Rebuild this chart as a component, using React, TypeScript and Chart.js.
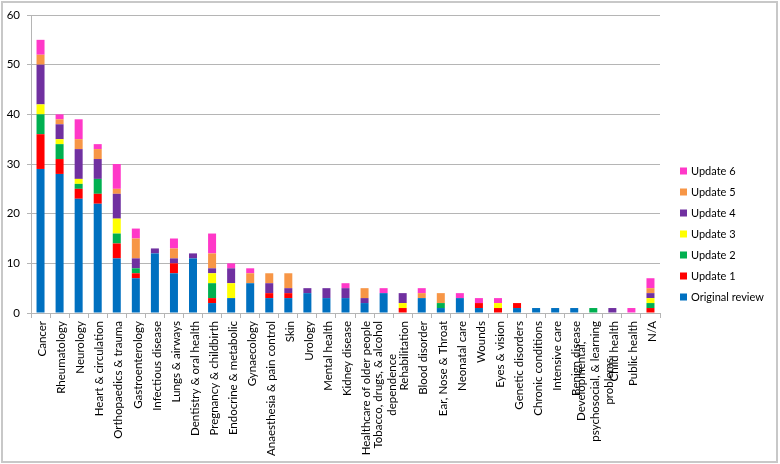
import React, { useEffect, useRef } from 'react';
import { Chart, registerables } from 'chart.js';

Chart.register(...registerables);

const categories: string[][] = [
  ['Cancer'],
  ['Rheumatology'],
  ['Neurology'],
  ['Heart & circulation'],
  ['Orthopaedics & trauma'],
  ['Gastroenterology'],
  ['Infectious disease'],
  ['Lungs & airways'],
  ['Dentistry & oral health'],
  ['Pregnancy & childbirth'],
  ['Endocrine & metabolic'],
  ['Gynaecology'],
  ['Anaesthesia & pain control'],
  ['Skin'],
  ['Urology'],
  ['Mental health'],
  ['Kidney disease'],
  ['Healthcare of older people'],
  ['Tobacco, drugs, & alcohol', 'dependence'],
  ['Rehabilitation'],
  ['Blood disorder'],
  ['Ear, Nose & Throat'],
  ['Neonatal care'],
  ['Wounds'],
  ['Eyes & vision'],
  ['Genetic disorders'],
  ['Chronic conditions'],
  ['Intensive care'],
  ['Benign disease'],
  ['Developmental,', 'psychosocial, & learning', 'problems'],
  ['Child health'],
  ['Public health'],
  ['N/A'],
];

const originalReview = [29, 28, 23, 22, 11, 7, 12, 8, 11, 2, 3, 6, 3, 3, 4, 3, 3, 2, 4, 0, 3, 1, 3, 1, 0, 1, 1, 1, 1, 0, 0, 0, 0];
const update1 = [7, 3, 2, 2, 3, 1, 0, 2, 0, 1, 0, 0, 1, 1, 0, 0, 0, 0, 0, 1, 0, 0, 0, 1, 1, 1, 0, 0, 0, 0, 0, 0, 1];
const update2 = [4, 3, 1, 3, 2, 1, 0, 0, 0, 3, 0, 0, 0, 0, 0, 0, 0, 0, 0, 0, 0, 1, 0, 0, 0, 0, 0, 0, 0, 1, 0, 0, 1];
const update3 = [2, 1, 1, 0, 3, 0, 0, 0, 0, 2, 3, 0, 0, 0, 0, 0, 0, 0, 0, 1, 0, 0, 0, 0, 1, 0, 0, 0, 0, 0, 0, 0, 1];
const update4 = [8, 3, 6, 4, 5, 2, 1, 1, 1, 1, 3, 0, 2, 1, 1, 2, 2, 1, 0, 2, 0, 0, 0, 0, 0, 0, 0, 0, 0, 0, 1, 0, 1];
const update5 = [2, 1, 2, 2, 1, 4, 0, 2, 0, 3, 0, 2, 2, 3, 0, 0, 0, 2, 0, 0, 1, 2, 0, 0, 0, 0, 0, 0, 0, 0, 0, 0, 1];
const update6 = [3, 1, 4, 1, 5, 2, 0, 2, 0, 4, 1, 1, 0, 0, 0, 0, 1, 0, 1, 0, 1, 0, 1, 1, 1, 0, 0, 0, 0, 0, 0, 1, 2];

const seriesNames = ['Original review', 'Update 1', 'Update 2', 'Update 3', 'Update 4', 'Update 5', 'Update 6'];
const seriesValues = [originalReview, update1, update2, update3, update4, update5, update6];
const seriesColors = ['#0070C0', '#FF0000', '#00B050', '#FFFF00', '#7030A0', '#F79646', '#FF38C8'];

const yMin = 0;
const yMax = 60;
const yStep = 10;

const FONT = 'Lato, "Open Sans", sans-serif';
const FONT_SIZE = 11.5;
const LEGEND_FONT_SIZE = 11;
const GRID = '#b5b5b5';

const framePlugin = {
  id: 'frame',
  beforeDraw(chart: any) {
    const ctx = chart.ctx;
    ctx.save();
    ctx.fillStyle = '#ffffff';
    ctx.fillRect(0, 0, chart.width, chart.height);
    ctx.restore();
  },
  afterDraw(chart: any) {
    const ctx = chart.ctx;
    ctx.save();
    ctx.strokeStyle = '#c8c8c8';
    ctx.lineWidth = 2;
    ctx.strokeRect(2, 2, chart.width - 5, chart.height - 4);
    ctx.restore();
  },
};

const xLabelPlugin = {
  id: 'xLabels',
  afterDraw(chart: any) {
    const ctx = chart.ctx;
    const xScale = chart.scales.x;
    const top = chart.chartArea.bottom + 8;
    const lineH = 14;
    ctx.save();
    ctx.font = `${FONT_SIZE}px ${FONT}`;
    ctx.fillStyle = '#000000';
    ctx.textAlign = 'center';
    ctx.textBaseline = 'middle';
    categories.forEach((lines, i) => {
      const x = xScale.getPixelForValue(i) + 2;
      let w = 0;
      lines.forEach((l) => { w = Math.max(w, ctx.measureText(l).width); });
      lines.forEach((l, j) => {
        const cx = x + (j - (lines.length - 1) / 2) * lineH;
        ctx.save();
        ctx.translate(cx, top + w / 2);
        ctx.rotate(-Math.PI / 2);
        ctx.fillText(l, 0, 0);
        ctx.restore();
      });
    });
    ctx.restore();
  },
};

const legendPlugin = {
  id: 'customLegend',
  afterDraw(chart: any) {
    const ctx = chart.ctx;
    ctx.save();
    ctx.font = `${LEGEND_FONT_SIZE}px ${FONT}`;
    ctx.textAlign = 'left';
    ctx.textBaseline = 'middle';
    const n = chart.data.datasets.length;
    for (let k = 0; k < n; k++) {
      const ds = chart.data.datasets[n - 1 - k];
      const cy = 171 + k * 21;
      ctx.fillStyle = ds.backgroundColor;
      ctx.fillRect(680, cy - 3.5, 7, 7);
      ctx.fillStyle = '#000000';
      ctx.fillText(ds.label, 691, cy);
    }
    ctx.restore();
  },
};

export default function App() {
  const canvasRef = useRef<HTMLCanvasElement | null>(null);

  useEffect(() => {
    document.body.style.margin = '0';
    const canvas = canvasRef.current;
    if (!canvas) return;
    const chart = new Chart(canvas, {
      type: 'bar',
      data: {
        labels: categories.map((c) => c.join(' ')),
        datasets: seriesNames.map((name, i) => ({
          label: name,
          data: seriesValues[i],
          backgroundColor: seriesColors[i],
          borderWidth: 0,
          barPercentage: 0.42,
          categoryPercentage: 1,
        })),
      },
      options: {
        responsive: false,
        animation: false,
        devicePixelRatio: 1,
        layout: { padding: { left: 0, top: 15, right: 120, bottom: 0 } },
        plugins: {
          legend: { display: false },
          tooltip: { enabled: false },
        },
        scales: {
          x: {
            stacked: true,
            offset: true,
            ticks: { display: false },
            grid: {
              offset: true,
              drawOnChartArea: false,
              drawTicks: true,
              tickLength: 5,
              color: GRID,
            },
            border: { color: GRID, width: 1 },
            afterFit: (scale: any) => { scale.height = 151; },
          },
          y: {
            stacked: true,
            min: yMin,
            max: yMax,
            ticks: {
              stepSize: yStep,
              padding: 7,
              color: '#000000',
              font: { family: FONT, size: FONT_SIZE },
            },
            grid: { color: GRID, tickLength: 4, lineWidth: 1 },
            border: { color: GRID, width: 1 },
            afterFit: (scale: any) => { scale.width = 31; },
          },
        },
      },
      plugins: [framePlugin, xLabelPlugin, legendPlugin],
    });
    return () => { chart.destroy(); };
  }, []);

  return (
    <div style={{ position: 'absolute', left: 0, top: 0, width: 780, height: 464 }}>
      <canvas ref={canvasRef} width={780} height={464} style={{ width: 780, height: 464, display: 'block' }} />
    </div>
  );
}
